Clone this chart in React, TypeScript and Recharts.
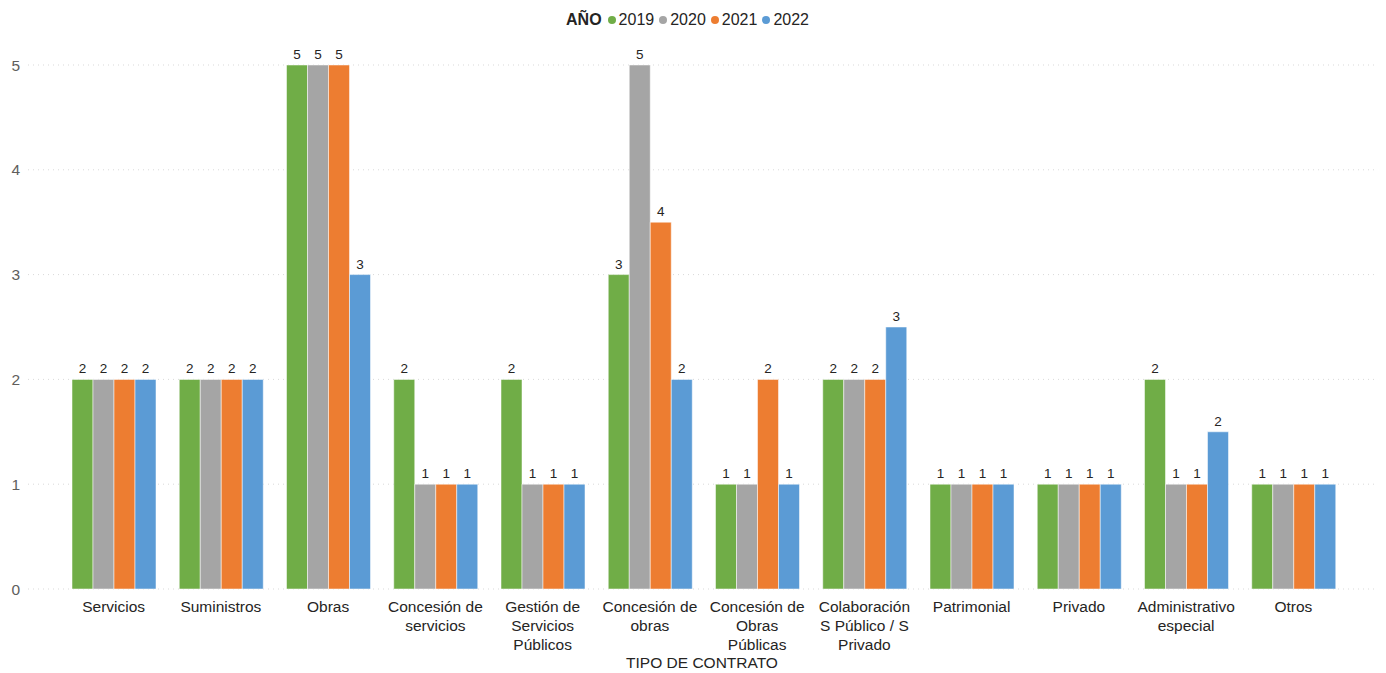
import React from 'react';
import { BarChart, Bar, XAxis, YAxis, CartesianGrid, LabelList, Label } from 'recharts';

const categories = [
  'Servicios',
  'Suministros',
  'Obras',
  'Concesión de servicios',
  'Gestión de Servicios Públicos',
  'Concesión de obras',
  'Concesión de Obras Públicas',
  'Colaboración S Público / S Privado',
  'Patrimonial',
  'Privado',
  'Administrativo especial',
  'Otros',
];

// how the tick labels wrap under each group
const categoryLines = [
  ['Servicios'],
  ['Suministros'],
  ['Obras'],
  ['Concesión de', 'servicios'],
  ['Gestión de', 'Servicios', 'Públicos'],
  ['Concesión de', 'obras'],
  ['Concesión de', 'Obras', 'Públicas'],
  ['Colaboración', 'S Público / S', 'Privado'],
  ['Patrimonial'],
  ['Privado'],
  ['Administrativo', 'especial'],
  ['Otros'],
];

const years = ['2019', '2020', '2021', '2022'];
const colors = ['#70AD47', '#A5A5A5', '#ED7D31', '#5B9BD5'];

const v2019 = [2, 2, 5, 2, 2, 3, 1, 2, 1, 1, 2, 1];
const v2020 = [2, 2, 5, 1, 1, 5, 1, 2, 1, 1, 1, 1];
const v2021 = [2, 2, 5, 1, 1, 3.5, 2, 2, 1, 1, 1, 1];
const v2022 = [2, 2, 3, 1, 1, 2, 1, 2.5, 1, 1, 1.5, 1];

const yTicks = [0, 1, 2, 3, 4, 5];

const series = [v2019, v2020, v2021, v2022];

const data = categories.map((name, i) => {
  const row: Record<string, any> = { name };
  years.forEach((y, j) => {
    row[y] = series[j][i];
  });
  return row;
});

const FONT = '"Liberation Sans", Arial, sans-serif';

const CategoryTick = (props: any) => {
  const { x, y, payload } = props;
  const lines: string[] = categoryLines[payload.index] ?? [payload.value];
  return (
    <text x={x} y={y} textAnchor="middle" fill="#252423" fontSize={15.5} fontFamily={FONT}>
      {lines.map((l, i) => (
        <tspan key={i} x={x} dy={i === 0 ? 15 : 19}>
          {l}
        </tspan>
      ))}
    </text>
  );
};

const Legend = () => (
  <div
    style={{
      position: 'absolute',
      top: 11,
      left: 0,
      width: 1386,
      display: 'flex',
      justifyContent: 'center',
      alignItems: 'center',
      fontFamily: FONT,
      fontSize: 16,
      color: '#252423',
      paddingRight: 6,
      boxSizing: 'border-box',
    }}
  >
    <span style={{ fontWeight: 'bold', marginRight: 6 }}>AÑO</span>
    {years.map((y, i) => (
      <span key={y} style={{ display: 'flex', alignItems: 'center', marginRight: 5 }}>
        <span
          style={{
            width: 8,
            height: 8,
            borderRadius: 4,
            background: colors[i],
            marginRight: 3,
            display: 'inline-block',
          }}
        />
        {y}
      </span>
    ))}
  </div>
);

export default function App() {
  return (
    <div style={{ position: 'fixed', left: 0, top: 0, width: 1386, height: 673, background: '#fff' }}>
      <Legend />
      <BarChart
        width={1386}
        height={673}
        data={data}
        margin={{ top: 65, right: 10, left: 0, bottom: 0 }}
        barCategoryGap={12}
        barGap={0}
      >
        <CartesianGrid vertical={false} stroke="#d9d9d9" strokeDasharray="1 4" />
        <XAxis
          dataKey="name"
          height={84}
          axisLine={false}
          tickLine={false}
          interval={0}
          padding={{ left: 32, right: 29 }}
          tick={<CategoryTick />}
        >
          <Label
            value="TIPO DE CONTRATO"
            position="insideBottom"
            offset={5}
            fill="#252423"
            fontSize={15.5}
            fontFamily={FONT}
          />
        </XAxis>
        <YAxis
          width={28}
          domain={[0, 5]}
          ticks={yTicks}
          axisLine={false}
          tickLine={false}
          tick={{ fill: '#605E5C', fontSize: 15.5, fontFamily: FONT }}
        />
        {years.map((y, i) => (
          <Bar
            key={y}
            dataKey={y}
            fill={colors[i]}
            stroke="rgba(255,255,255,0.5)"
            strokeWidth={1}
            isAnimationActive={false}
          >
            <LabelList
              dataKey={y}
              position="top"
              offset={6}
              formatter={(v: any) => Math.round(Number(v))}
              fill="#252423"
              fontSize={13.5}
              fontFamily={FONT}
            />
          </Bar>
        ))}
      </BarChart>
    </div>
  );
}
